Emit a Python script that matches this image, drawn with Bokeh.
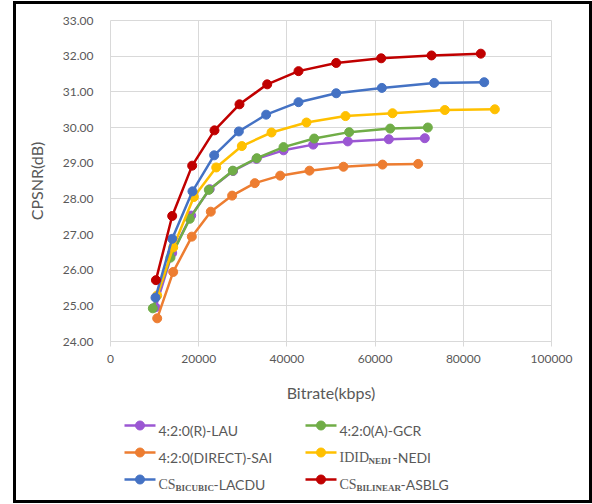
from bokeh.plotting import figure
from bokeh.layouts import column
from bokeh.models import Range1d, FixedTicker, NumeralTickFormatter, PrintfTickFormatter
from bokeh.core.properties import value
from bokeh.embed import file_html
from bokeh.resources import INLINE

# ---- data ----
lau_x = [10200, 13990, 18300, 22500, 27800, 33100, 39230, 45960, 53810, 63110, 71270]
lau_y = [24.96, 26.48, 27.53, 28.27, 28.78, 29.12, 29.36, 29.52, 29.61, 29.67, 29.70]
gcr_x = [9600, 13600, 17970, 22290, 27730, 33180, 39230, 46190, 54120, 63420, 71960]
gcr_y = [24.93, 26.35, 27.44, 28.25, 28.79, 29.14, 29.45, 29.69, 29.87, 29.97, 30.00]
sai_x = [10590, 14220, 18440, 22740, 27580, 32720, 38480, 45120, 52830, 61680, 69770]
sai_y = [24.65, 25.95, 26.94, 27.64, 28.09, 28.44, 28.65, 28.79, 28.90, 28.96, 28.98]
nedi_x = [10590, 14220, 18900, 23970, 29780, 36510, 44440, 53290, 63950, 75810, 87150]
nedi_y = [25.29, 26.64, 28.05, 28.88, 29.48, 29.86, 30.14, 30.32, 30.40, 30.49, 30.51]
lacdu_x = [10200, 13990, 18590, 23510, 29100, 35300, 42630, 51180, 61530, 73400, 84740]
lacdu_y = [25.23, 26.88, 28.21, 29.22, 29.89, 30.36, 30.71, 30.96, 31.11, 31.25, 31.27]
asblg_x = [10300, 13990, 18520, 23580, 29250, 35530, 42630, 51180, 61380, 72790, 83970]
asblg_y = [25.72, 27.52, 28.93, 29.92, 30.65, 31.21, 31.58, 31.81, 31.94, 32.02, 32.07]

x_ticks = [0, 20000, 40000, 60000, 80000, 100000]
y_ticks = [24, 25, 26, 27, 28, 29, 30, 31, 32, 33]

# legend labels: plain string or (prefix, subscript, suffix)
names = ["4:2:0(R)-LAU", "4:2:0(A)-GCR", "4:2:0(DIRECT)-SAI",
         ("IDID", "NEDI", "-NEDI"), ("CS", "BICUBIC", "-LACDU"), ("CS", "BILINEAR", "-ASBLG")]
colors = ["#9B57D3", "#70AD47", "#ED7D31", "#FFC000", "#4472C4", "#C00000"]
series = [(lau_x, lau_y), (gcr_x, gcr_y), (sai_x, sai_y), (nedi_x, nedi_y),
          (lacdu_x, lacdu_y), (asblg_x, asblg_y)]

SANS = "Lato"
SERIF = "Liberation Serif"
GRAY = "#595959"
GRID = "#d9d9d9"

# ---- main chart ----
p = figure(width=573, height=406, output_backend="svg", toolbar_location=None,
           x_range=Range1d(0, 100000), y_range=Range1d(24, 33),
           min_border_left=94, min_border_right=38, min_border_top=16, min_border_bottom=69)
p.outline_line_color = GRID
p.background_fill_color = "white"
p.border_fill_color = "white"

p.xaxis.ticker = FixedTicker(ticks=x_ticks)
p.yaxis.ticker = FixedTicker(ticks=y_ticks)
p.xaxis.formatter = NumeralTickFormatter(format="0")
p.yaxis.formatter = PrintfTickFormatter(format="%.2f")
p.xgrid.grid_line_color = GRID
p.ygrid.grid_line_color = GRID
p.xgrid.grid_line_width = 1
p.ygrid.grid_line_width = 1

p.xaxis.axis_line_color = GRID
p.xaxis.major_tick_line_color = GRID
p.xaxis.major_tick_out = 5
p.xaxis.major_tick_in = 0
p.xaxis.minor_tick_line_color = None
p.xaxis.major_label_standoff = 8
p.yaxis.axis_line_color = None
p.yaxis.major_tick_line_color = None
p.yaxis.minor_tick_line_color = None
p.yaxis.major_tick_out = 0
p.yaxis.major_label_standoff = 17

for ax in (p.xaxis, p.yaxis):
    ax.major_label_text_font = SANS
    ax.major_label_text_font_size = "12px"
    ax.major_label_text_color = GRAY
    ax.axis_label_text_font = SANS
    ax.axis_label_text_font_size = "16px"
    ax.axis_label_text_font_style = "normal"
    ax.axis_label_text_color = GRAY
p.xaxis.axis_label = "Bitrate(kbps)"
p.yaxis.axis_label = "CPSNR(dB)"
p.xaxis.axis_label_standoff = 17
p.yaxis.axis_label_standoff = 14

for (xs, ys), c in zip(series, colors):
    p.line(xs, ys, line_color=c, line_width=2.5)
    p.scatter(xs, ys, size=9, fill_color=c, line_color=c)

# ---- legend (figure in page-pixel units; its frame aligns with the chart frame) ----
lg = figure(width=573, height=90, output_backend="svg", toolbar_location=None,
            x_range=Range1d(110, 551), y_range=Range1d(500, 410),
            x_axis_location=None, y_axis_location=None,
            min_border_left=94, min_border_right=38,
            min_border_top=0, min_border_bottom=0)
lg.grid.visible = False
lg.outline_line_color = None
lg.border_fill_color = "white"
lg.background_fill_color = "white"

col_x = [124, 305]
row_y = [425, 452, 479]
pre_w = {"IDID": 29, "CS": 17}
sub_w = {"NEDI": 24, "BICUBIC": 38, "BILINEAR": 44}
for i, (nm, c) in enumerate(zip(names, colors)):
    x0 = col_x[i % 2]
    y0 = row_y[i // 2]
    lg.line([x0, x0 + 31], [y0, y0], line_color=c, line_width=2.5)
    lg.scatter([x0 + 15.5], [y0], size=9, fill_color=c, line_color=c)
    tx = x0 + 34
    if isinstance(nm, str):
        lg.text([tx], [y0 + 5], text=[nm], text_font=value(SANS), text_font_size="14px",
                text_color=GRAY, text_baseline="alphabetic", text_align="left")
    else:
        pre, sub, suf = nm
        lg.text([tx], [y0 + 5], text=[pre], text_font=value(SERIF), text_font_size="14px",
                text_color=GRAY, text_baseline="alphabetic", text_align="left")
        lg.text([tx + pre_w[pre]], [y0 + 8], text=[sub], text_font=value(SERIF), text_font_size="9px",
                text_font_style="bold", text_color=GRAY, text_baseline="alphabetic", text_align="left")
        lg.text([tx + pre_w[pre] + sub_w[sub]], [y0 + 5], text=[suf], text_font=value(SANS),
                text_font_size="14px", text_color=GRAY, text_baseline="alphabetic", text_align="left")

layout = column(p, lg, spacing=0,
                styles={"border": "3px solid black", "margin-left": "13px", "margin-top": "1px",
                        "background-color": "white"})

open("out.html", "w").write(file_html(layout, INLINE))
